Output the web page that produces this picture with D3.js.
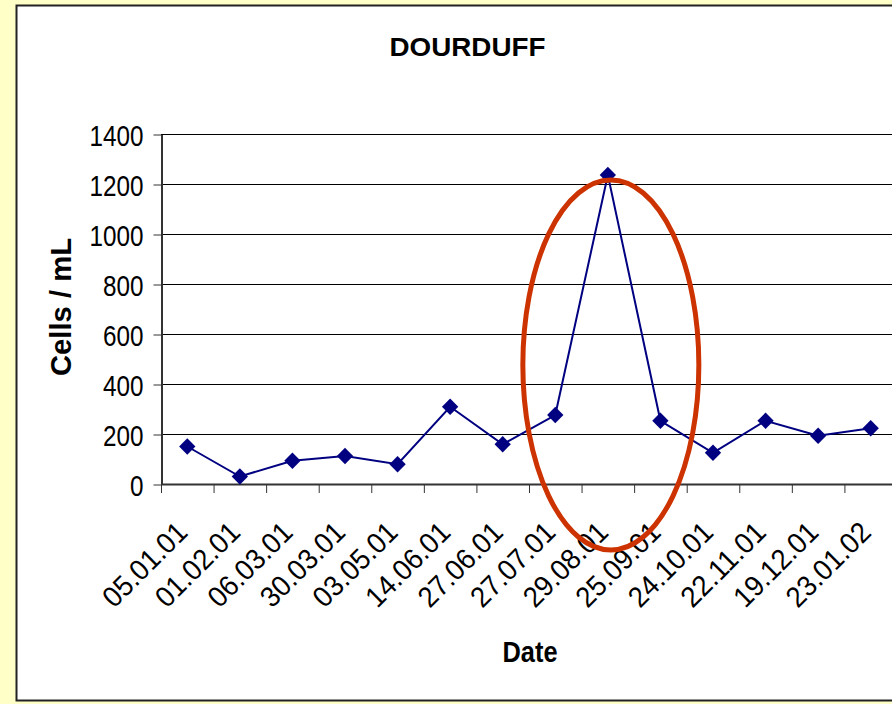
<!DOCTYPE html>
<html>
<head>
<meta charset="utf-8">
<script src="https://cdn.jsdelivr.net/npm/d3@7"></script>
<style>
  body { margin: 0; background: #ffffc8; }
  svg { display: block; font-family: "Liberation Sans", Arial, sans-serif; }
</style>
</head>
<body>
<div id="chart"></div>
<script>
// data
const dates = ["05.01.01", "01.02.01", "06.03.01", "30.03.01", "03.05.01", "14.06.01", "27.06.01",
  "27.07.01", "29.08.01", "25.09.01", "24.10.01", "22.11.01", "19.12.01", "23.01.02"];
const cells = [150, 30, 93, 112, 79, 309, 159, 276, 1236, 253, 125, 253, 193, 223];
const yTicks = [0, 200, 400, 600, 800, 1000, 1200, 1400];
// red ellipse round the peak
const highlight = { date: "29.08.01", value: 476 };

const W = 892, H = 704;
const svg = d3.select("#chart").append("svg")
  .attr("width", W)
  .attr("height", H);

// white chart frame
svg.append("rect")
  .attr("x", 16.5).attr("y", 5.5)
  .attr("width", W + 20).attr("height", 695)
  .attr("fill", "#fff")
  .attr("stroke", "#222")
  .attr("stroke-width", 2);

const xScale = d3.scaleBand()
  .domain(dates)
  .range([161, 161 + 14 * 52.57]);
const yScale = d3.scaleLinear()
  .domain([0, 1400])
  .range([484, 134]);
const cx = d => xScale(d) + xScale.bandwidth() / 2;

// gridlines
svg.append("g")
  .selectAll("line")
  .data(yTicks.slice(1))
  .join("line")
  .attr("x1", 161).attr("x2", W)
  .attr("y1", d => yScale(d) + 0.5).attr("y2", d => yScale(d) + 0.5)
  .attr("stroke", "#000")
  .attr("stroke-width", 1);

// y axis
const yAxis = svg.append("g")
  .attr("transform", "translate(161.5,0.5)")
  .call(d3.axisLeft(yScale).tickValues(yTicks).tickFormat(d3.format("d"))
    .tickSize(8).tickSizeOuter(0).tickPadding(10))
yAxis.attr("font-size", null).attr("font-family", null);
yAxis.select(".domain").attr("stroke", "#333").attr("stroke-width", 2);
yAxis.selectAll(".tick line").attr("stroke", "#333");
yAxis.selectAll("text")
  .style("font-size", "30px")
  .attr("fill", "#000")
  .attr("dy", "0.36em")
  .attr("lengthAdjust", "spacingAndGlyphs")
  .attr("textLength", d => String(d).length * 13.5);

// x axis line + ticks at band edges
svg.append("line")
  .attr("x1", 161).attr("x2", W)
  .attr("y1", 484.5).attr("y2", 484.5)
  .attr("stroke", "#333").attr("stroke-width", 2);
svg.append("g")
  .selectAll("line")
  .data(dates)
  .join("line")
  .attr("x1", d => xScale(d) + 0.5).attr("x2", d => xScale(d) + 0.5)
  .attr("y1", 484).attr("y2", 493)
  .attr("stroke", "#333");

// rotated date labels
svg.append("g")
  .selectAll("text")
  .data(dates)
  .join("text")
  .attr("transform", d => `translate(${cx(d) + 2},${534}) rotate(-45)`)
  .attr("text-anchor", "end")
  .style("font-size", "29px")
  .attr("lengthAdjust", "spacingAndGlyphs")
  .attr("textLength", 106)
  .text(d => d);

// the series
const line = d3.line()
  .x((d, i) => cx(dates[i]))
  .y(d => yScale(d));
svg.append("path")
  .datum(cells)
  .attr("d", line)
  .attr("fill", "none")
  .attr("stroke", "#000080")
  .attr("stroke-width", 2);

svg.append("g")
  .selectAll("path")
  .data(cells)
  .join("path")
  .attr("transform", (d, i) => `translate(${cx(dates[i])},${yScale(d)})`)
  .attr("d", d3.symbol(d3.symbolDiamond2, 170))
  .attr("fill", "#000080");

// annotation ellipse
svg.append("ellipse")
  .attr("cx", cx(highlight.date) + 3)
  .attr("cy", yScale(highlight.value))
  .attr("rx", 88)
  .attr("ry", 185)
  .attr("fill", "none")
  .attr("stroke", "#cc3300")
  .attr("stroke-width", 5);

// titles
svg.append("text")
  .attr("x", 467.5).attr("y", 56)
  .attr("text-anchor", "middle")
  .style("font-size", "26px").attr("font-weight", "bold")
  .attr("lengthAdjust", "spacingAndGlyphs").attr("textLength", 156)
  .text("DOURDUFF");

svg.append("text")
  .attr("x", 530).attr("y", 662)
  .attr("text-anchor", "middle")
  .style("font-size", "29px").attr("font-weight", "bold")
  .attr("lengthAdjust", "spacingAndGlyphs").attr("textLength", 55)
  .text("Date");

svg.append("text")
  .attr("transform", "translate(71,307) rotate(-90)")
  .attr("text-anchor", "middle")
  .style("font-size", "29px").attr("font-weight", "bold")
  .attr("lengthAdjust", "spacingAndGlyphs").attr("textLength", 138)
  .text("Cells / mL");
</script>
</body>
</html>
